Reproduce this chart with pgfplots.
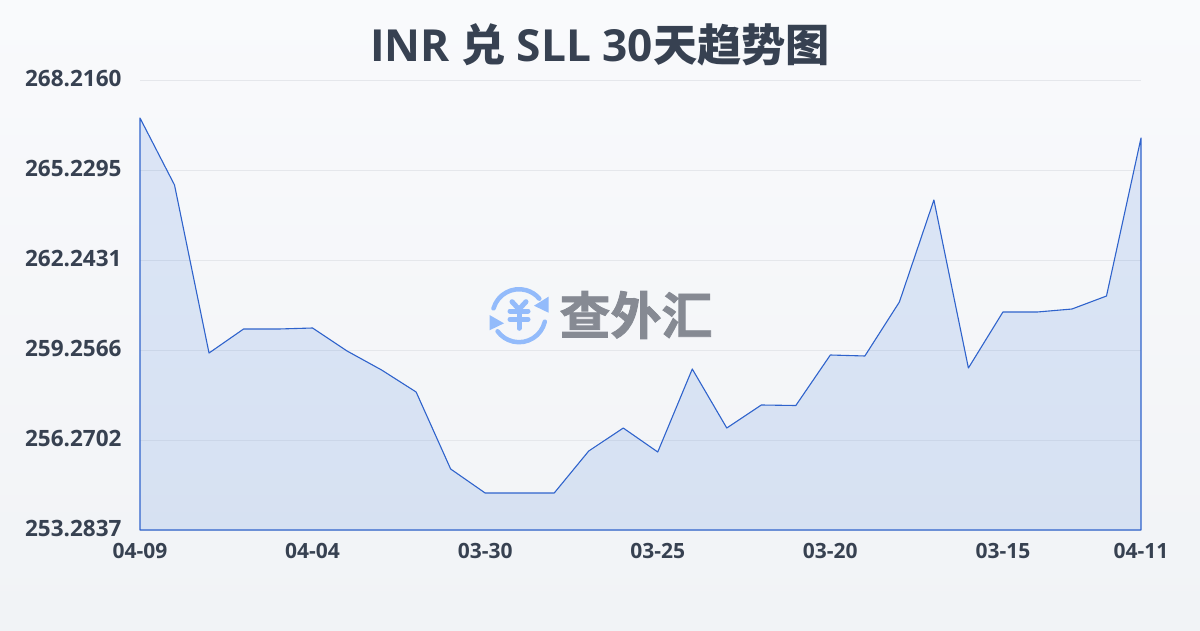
\documentclass[border=0pt]{standalone}
\usepackage{fontspec}
\usepackage{pgfplots}
\pgfplotsset{compat=1.18}
\setmainfont{Open Sans}
\newfontfamily\cjkbold{Noto Sans CJK SC Bold}
\newfontfamily\cjkheavy{Noto Sans CJK SC Bold}[FakeBold=1.6]
\definecolor{inktext}{HTML}{374151}
\definecolor{linecol}{HTML}{2F63CC}
\definecolor{fillcol}{HTML}{3C78DC}
\definecolor{gridcol}{HTML}{E5E7EB}
\definecolor{bgtop}{HTML}{F9FAFC}
\definecolor{bgbot}{HTML}{F1F3F6}
\definecolor{logoblue}{HTML}{93BBFB}
\definecolor{logogray}{HTML}{868A93}
\pgfplotstableread{
idx val
0 266.955
1 264.732
2 259.157
3 259.953
4 259.953
5 259.987
6 259.223
7 258.593
8 257.863
9 255.308
10 254.511
11 254.511
12 254.511
13 255.905
14 256.668
15 255.872
16 258.626
17 256.668
18 257.432
19 257.415
20 259.091
21 259.058
22 260.849
23 264.234
24 258.659
25 260.518
26 260.518
27 260.617
28 261.048
29 266.291
}\ratetable
\begin{document}
\begin{tikzpicture}[x=1pt,y=1pt]
% page background, pixel coordinates with y going down as negative
\shade[top color=bgtop,bottom color=bgbot,draw=none] (0,0) rectangle (1200,-630);
\begin{axis}[
    at={(140pt,-530pt)},
    anchor=south west,
    scale only axis,
    width=1001pt,
    height=450pt,
    xmin=0, xmax=29,
    ymin=253.2837, ymax=268.2160,
    clip=false,
    axis line style={draw=none},
    xtick={0,5,10,15,20,25,29},
    xticklabels={04-09,04-04,03-30,03-25,03-20,03-15,04-11},
    ytick={253.2837,256.2702,259.2566,262.2431,265.2295,268.2160},
    yticklabels={253.2837,256.2702,259.2566,262.2431,265.2295,268.2160},
    ymajorgrids,
    grid style={gridcol,line width=1pt},
    tick style={draw=none},
    yticklabel style={font=\fontsize{22.5}{22.5}\selectfont\bfseries,text=inktext,anchor=east,xshift=-15pt,yshift=2pt},
    xticklabel style={font=\fontsize{21}{21}\selectfont\bfseries,text=inktext,anchor=north,yshift=-9.5pt},
]
\addplot[draw=linecol,line width=1.1pt,line join=round,fill=fillcol,fill opacity=0.15]
    table[x=idx,y=val] {\ratetable} -- (axis cs:29,253.2837) -- (axis cs:0,253.2837) -- cycle;
\end{axis}
\node[font=\fontsize{44.2}{44.2}\selectfont\bfseries,text=inktext,anchor=center] at (600,-45) {INR {\cjkbold 兑} SLL 30{\cjkbold 天趋势图}};
% watermark
\node[font=\fontsize{51}{51}\selectfont\cjkheavy,text=logogray,anchor=center] at (636,-315) {查外汇};
\begin{scope}[shift={(519,-315.7)},draw=logoblue,line width=4.5pt,line cap=round]
\draw (164:26.5) arc (164:40:26.5);
\draw (-13:26.5) arc (-13:-144:26.5);
\fill[logoblue] (29.5,19) -- (29.5,3) -- (15,10) -- cycle;
\fill[logoblue] (-29.5,0.7) -- (-29.5,-14.6) -- (-15,-7.6) -- cycle;
\draw[line width=5pt] (-7,14) -- (0,6.4) -- (7,14);
\draw[line width=5pt] (-9,4.7) -- (9,4.7);
\draw[line width=5pt] (-9,-3.6) -- (9,-3.6);
\draw[line width=5pt] (0,6.4) -- (0,-12.6);
\end{scope}
\end{tikzpicture}
\end{document}
